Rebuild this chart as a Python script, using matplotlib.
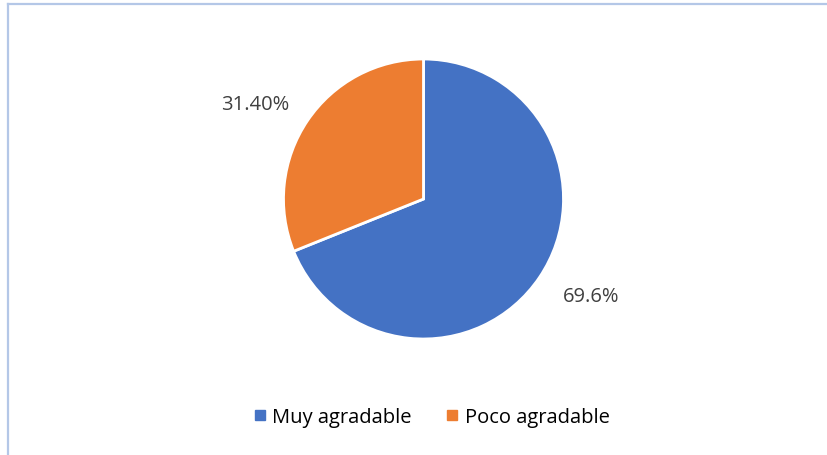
"""Pie chart: Muy agradable vs Poco agradable"""

import matplotlib.pyplot as plt
from matplotlib.lines import Line2D

categories = ["Muy agradable", "Poco agradable"]
values = [69.6, 31.40]
value_labels = ["69.6%", "31.40%"]
colors = ["#4472C4", "#ED7D31"]

W, H = 827, 456


def main():
    plt.rcParams['font.family'] = ['Open Sans', 'DejaVu Sans']
    fig = plt.figure(figsize=(W / 100, H / 100), dpi=100)

    # chart border (only top and left edges are visible in the crop)
    border = '#B4C7E7'
    fig.add_artist(Line2D([7.5 / W, 7.5 / W], [0, 1 - 4.5 / H], color=border, lw=1.6))
    fig.add_artist(Line2D([7.5 / W, 1], [1 - 4.5 / H, 1 - 4.5 / H], color=border, lw=1.6))

    cx, cy, r = 423.5, 200, 140
    ax = fig.add_axes([(cx - r) / W, 1 - (cy + r) / H, 2 * r / W, 2 * r / H])
    wedges, texts = ax.pie(values, colors=colors, startangle=90, counterclock=False,
                           labels=value_labels, labeldistance=1.38,
                           wedgeprops=dict(edgecolor='white', linewidth=2),
                           textprops=dict(color='#404040', fontsize=14.5))
    for t in texts:
        t.set_ha('center')
        t.set_va('center')
    texts[0].set_position((1.2, -0.69))
    texts[1].set_position((-1.2, 0.68))
    ax.set_xlim(-1, 1)
    ax.set_ylim(-1, 1)
    ax.set_aspect('equal')

    handles = [Line2D([], [], marker='s', color=c, linestyle='none', markersize=7) for c in colors]
    fig.legend(handles, categories, loc='center', bbox_to_anchor=(430 / W, 1 - 418 / H),
               ncol=2, frameon=False, fontsize=14.5, handletextpad=0.15, columnspacing=1.6,
               handlelength=0.9, labelcolor='#000000')

    fig.savefig('out.png', dpi=100)


if __name__ == '__main__':
    main()
